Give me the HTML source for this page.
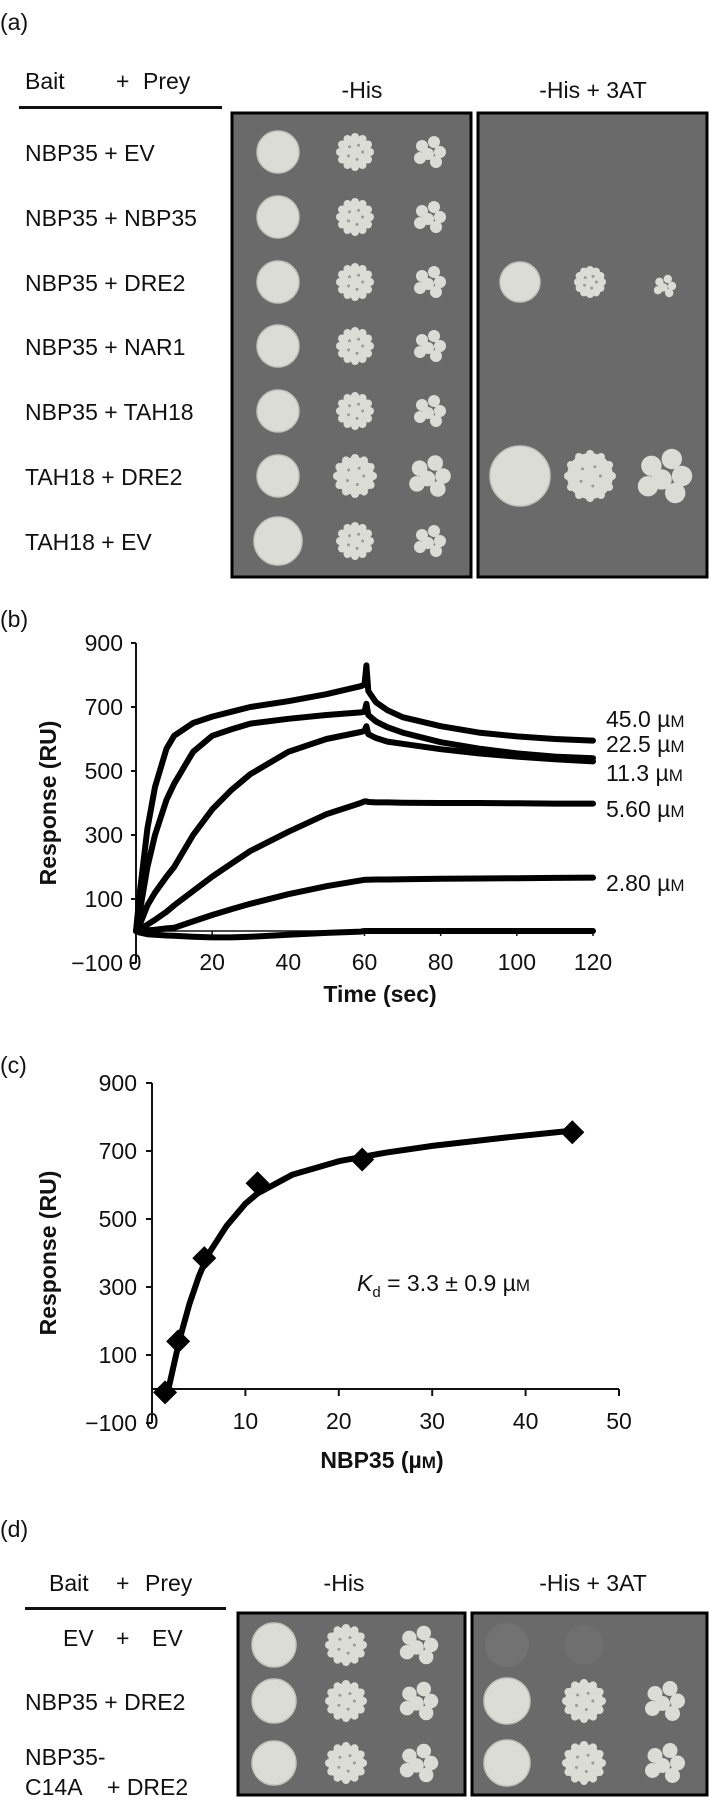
<!DOCTYPE html>
<html><head><meta charset="utf-8">
<style>
html,body{margin:0;padding:0;background:#fff;}
svg{display:block;font-family:"Liberation Sans",Arial,sans-serif;}
.t{font-size:23px;fill:#111;}
.b{font-size:23px;font-weight:bold;fill:#111;}
</style></head>
<body>
<svg id="fig" width="709" height="1804" viewBox="0 0 709 1804" xmlns="http://www.w3.org/2000/svg">
<!-- Panel a -->
<text class="t" x="0" y="30">(a)</text>
<g>
<text class="t" x="25" y="89">Bait</text>
<text class="t" x="116" y="89">+</text>
<text class="t" x="143" y="89">Prey</text>
<rect x="19" y="106" width="203" height="3" fill="#111"/>
<text class="t" x="362" y="98" text-anchor="middle">-His</text>
<text class="t" x="593" y="98" text-anchor="middle">-His + 3AT</text>
</g>
<rect x="232" y="113" width="239" height="464" fill="#6a6a6a" stroke="#000" stroke-width="3"/>
<rect x="478" y="113" width="229" height="464" fill="#6a6a6a" stroke="#000" stroke-width="3"/>
<g id="rowsA"></g>
<g id="coloniesA"></g>

<!-- Panel b -->
<text class="t" x="0" y="627">(b)</text>
<g id="chartB"></g>

<!-- Panel c -->
<text class="t" x="0" y="1073">(c)</text>
<g id="chartC"></g>
<text x="357" y="1291" class="t"><tspan font-style="italic">K</tspan><tspan font-size="15" dy="6">d</tspan><tspan dy="-6"> = 3.3 ± 0.9 µ</tspan><tspan font-size="17">M</tspan></text>

<!-- Panel d -->
<text class="t" x="0" y="1537">(d)</text>
<g>
<text class="t" x="49" y="1591">Bait</text>
<text class="t" x="116" y="1591">+</text>
<text class="t" x="145" y="1591">Prey</text>
<rect x="25" y="1607" width="201" height="3" fill="#111"/>
<text class="t" x="344" y="1591" text-anchor="middle">-His</text>
<text class="t" x="593" y="1591" text-anchor="middle">-His + 3AT</text>
</g>
<rect x="238" y="1613" width="227" height="182" fill="#6a6a6a" stroke="#000" stroke-width="3"/>
<rect x="472" y="1613" width="235" height="182" fill="#6a6a6a" stroke="#000" stroke-width="3"/>
<g>
<text class="t" x="63" y="1646">EV</text><text class="t" x="116" y="1646">+</text><text class="t" x="152" y="1646">EV</text>
<text class="t" x="25" y="1710">NBP35 + DRE2</text>
<text class="t" x="25" y="1765">NBP35-</text>
<text class="t" x="25" y="1795">C14A</text><text class="t" x="107" y="1795">+ DRE2</text>
</g>
<g id="coloniesD"></g>
</svg>
<script>
var NS="http://www.w3.org/2000/svg";
function mk(tag,attrs,parent){var e=document.createElementNS(NS,tag);for(var k in attrs)e.setAttribute(k,attrs[k]);parent.appendChild(e);return e;}

// ---------- Panel a ----------
var rowLabelsA=["NBP35 + EV","NBP35 + NBP35","NBP35 + DRE2","NBP35 + NAR1","NBP35 + TAH18","TAH18 + DRE2","TAH18 + EV"];
var rowYA=[152,217,282,346,411,476,541];
var gRA=document.getElementById('rowsA');
rowLabelsA.forEach(function(s,i){
  var t=mk('text',{x:25,y:rowYA[i]+9,class:'t'},gRA);
  
  
  t.textContent=s;
});
var COL="#dcdcd7";
function spot(g,cx,cy,d){mk('circle',{cx:cx,cy:cy,r:d/2,fill:COL,stroke:"#c4c4bf","stroke-width":1.5},g);}
function bumpy(g,cx,cy,d){
  mk('circle',{cx:cx,cy:cy,r:d/2-3,fill:COL},g);
  for(var k=0;k<12;k++){var a=k/12*Math.PI*2;mk('circle',{cx:cx+Math.cos(a)*(d/2-4),cy:cy+Math.sin(a)*(d/2-4),r:4,fill:COL},g);}
  for(var k=0;k<5;k++){var a=k*1.3;mk('circle',{cx:cx+Math.cos(a)*d/5,cy:cy+Math.sin(a)*d/5,r:1.5,fill:"#9a9a96"},g);}
}
function cluster(g,cx,cy,s){
  var pts=[[-8,-6],[4,-10],[10,0],[-2,2],[6,10],[-10,6]];
  pts.forEach(function(p){mk('circle',{cx:cx+p[0]*s,cy:cy+p[1]*s,r:6*s,fill:COL},g);});
}
var gA=document.getElementById('coloniesA');
var colXL=[278,355,430], colXR=[520,590,665];
rowYA.forEach(function(y,i){
  spot(gA,colXL[0],y,i==6?48:42); bumpy(gA,colXL[1],y,i==5?44:38); cluster(gA,colXL[2],y,i==5?1.3:1);
});
spot(gA,colXR[0],rowYA[2],40); bumpy(gA,colXR[1],rowYA[2],32); cluster(gA,colXR[2],rowYA[2]+4,0.7);
spot(gA,colXR[0],rowYA[5],60); bumpy(gA,colXR[1],rowYA[5],52); cluster(gA,colXR[2],rowYA[5],1.7);

// ---------- Panel d ----------
var gD=document.getElementById('coloniesD');
var rowYD=[1645,1701,1763], colXDL=[274,346,419], colXDR=[507,584,665];
rowYD.forEach(function(y){spot(gD,colXDL[0],y,44); bumpy(gD,colXDL[1],y,42); cluster(gD,colXDL[2],y,1.2);});
mk('circle',{cx:colXDR[0],cy:rowYD[0],r:22,fill:"#727272"},gD);
mk('circle',{cx:colXDR[1],cy:rowYD[0],r:20,fill:"#6f6f6f"},gD);
[1,2].forEach(function(i){spot(gD,colXDR[0],rowYD[i],46); bumpy(gD,colXDR[1],rowYD[i],44); cluster(gD,colXDR[2],rowYD[i],1.25);});

// ---------- Panel b data ----------
var timeB=[0,1,3,5,8,10,15,20,25,30,40,50,59,60,60.5,61,63,66,70,80,90,100,110,120];
var s45 =[0,120,320,450,570,610,650,670,685,700,718,740,765,770,830,750,715,690,668,640,620,608,600,595];
var s22 =[0,60,200,300,410,460,560,610,630,648,663,675,683,685,710,675,655,637,620,590,570,555,545,540];
var s11 =[0,20,80,120,170,200,300,380,440,490,560,600,622,625,640,615,603,592,585,568,555,545,537,530];
var s56 =[0,5,20,35,60,80,125,170,210,250,310,365,400,405,405,403,402,402,401,400,400,399,398,398];
var s28 =[0,0,2,4,8,10,30,50,68,85,115,140,158,160,160,160,161,161,162,163,164,165,166,167];
var s0  =[0,-5,-10,-12,-14,-15,-18,-20,-20,-18,-12,-6,-2,0,0,0,0,0,0,0,0,0,0,0];
var seriesB=[s45,s22,s11,s56,s28,s0];
var seriesNamesB=["45.0","22.5","11.3","5.60","2.80","0"];
var labelsB=["45.0 µ","22.5 µ","11.3 µ","5.60 µ","2.80 µ"];
var labelYB=[727,752,781,817,891];
var yTicksB=[900,700,500,300,100,-100];
var xTicksB=[0,20,40,60,80,100,120];
function xB(t){return 136+t*(593-136)/120;}
function yB(v){return 963-(v+100)*0.32;}
var gB=document.getElementById('chartB');
var ax=mk('line',{x1:136,y1:yB(900),x2:136,y2:yB(-100),stroke:"#111","stroke-width":2},gB);


var axx=mk('line',{x1:136,y1:yB(0),x2:xB(120),y2:yB(0),stroke:"#111","stroke-width":1.5},gB);


yTicksB.forEach(function(v){
  mk('line',{x1:131,y1:yB(v),x2:136,y2:yB(v),stroke:"#111","stroke-width":2},gB);
  var t=mk('text',{x:123,y:yB(v)+8,class:'t','text-anchor':'end'},gB);
  
  
  t.textContent=v<0?"\u2212"+(-v):v;
});
xTicksB.forEach(function(v){
  mk('line',{x1:xB(v),y1:yB(0),x2:xB(v),y2:yB(0)+5,stroke:"#111","stroke-width":1.5},gB);
  var t=mk('text',{x:xB(v)+(v==0?-1:0),y:970,class:'t','text-anchor':'middle'},gB);
  
  
  t.textContent=v;
});
seriesB.forEach(function(s,i){
  var d="";timeB.forEach(function(t,j){d+=(j?"L":"M")+xB(t).toFixed(1)+","+yB(s[j]).toFixed(1);});
  var p=mk('path',{d:d,fill:"none",stroke:"#000","stroke-width":6,"stroke-linejoin":"round","stroke-linecap":"round"},gB);
  
  
});
labelsB.forEach(function(s,i){
  var t=mk('text',{x:606,y:labelYB[i],class:'t'},gB);
  
  
  t.innerHTML=s+'<tspan font-size="17">M</tspan>';
});
var tb=mk('text',{x:380,y:1002,class:'b','text-anchor':'middle'},gB);


tb.textContent="Time (sec)";
var ty=mk('text',{x:0,y:0,class:'b','text-anchor':'middle',transform:'translate(56,803) rotate(-90)'},gB);


ty.textContent="Response (RU)";

// ---------- Panel c data ----------
var concC=[1.4,2.8,5.6,11.3,22.5,45];
var respC=[-10,140,385,605,675,755];
var fitX=[1.6,2,2.5,3,4,5,6,8,10,11.3,15,20,25,30,38,45];
var fitY=[-20,30,90,150,250,330,395,480,545,575,630,670,695,715,740,760];
var yTicksC=[900,700,500,300,100,-100];
var xTicksC=[0,10,20,30,40,50];
function xC(c){return 152+c*(619-152)/50;}
function yC(v){return 1423-(v+100)*0.34;}
var gC=document.getElementById('chartC');
var cy1=mk('line',{x1:152,y1:yC(900),x2:152,y2:yC(-100),stroke:"#111","stroke-width":2},gC);


var cx1=mk('line',{x1:152,y1:yC(0),x2:xC(50),y2:yC(0),stroke:"#111","stroke-width":2},gC);


yTicksC.forEach(function(v){
  mk('line',{x1:146,y1:yC(v),x2:152,y2:yC(v),stroke:"#111","stroke-width":2},gC);
  var t=mk('text',{x:137,y:yC(v)+8,class:'t','text-anchor':'end'},gC);
  
  
  t.textContent=v<0?"\u2212"+(-v):v;
});
xTicksC.forEach(function(v){
  mk('line',{x1:xC(v),y1:yC(0),x2:xC(v),y2:yC(0)+7,stroke:"#111","stroke-width":2},gC);
  var t=mk('text',{x:xC(v),y:1429,class:'t','text-anchor':'middle'},gC);
  
  
  t.textContent=v;
});
var dC="";fitX.forEach(function(c,j){dC+=(j?"L":"M")+xC(c).toFixed(1)+","+yC(fitY[j]).toFixed(1);});
var fp=mk('path',{d:dC,fill:"none",stroke:"#000","stroke-width":6,"stroke-linejoin":"round","stroke-linecap":"round"},gC);


concC.forEach(function(c,i){
  var X=xC(c),Y=yC(respC[i]);
  var p=mk('polygon',{points:(X)+","+(Y-12)+" "+(X+12)+","+Y+" "+X+","+(Y+12)+" "+(X-12)+","+Y,fill:"#000"},gC);
  
  
});
var tc=mk('text',{x:382,y:1468,class:'b','text-anchor':'middle'},gC);


tc.innerHTML='NBP35 (µ<tspan font-size="17">M</tspan>)';
var tyc=mk('text',{x:0,y:0,class:'b','text-anchor':'middle',transform:'translate(56,1253) rotate(-90)'},gC);


tyc.textContent="Response (RU)";
</script>
</body></html>
